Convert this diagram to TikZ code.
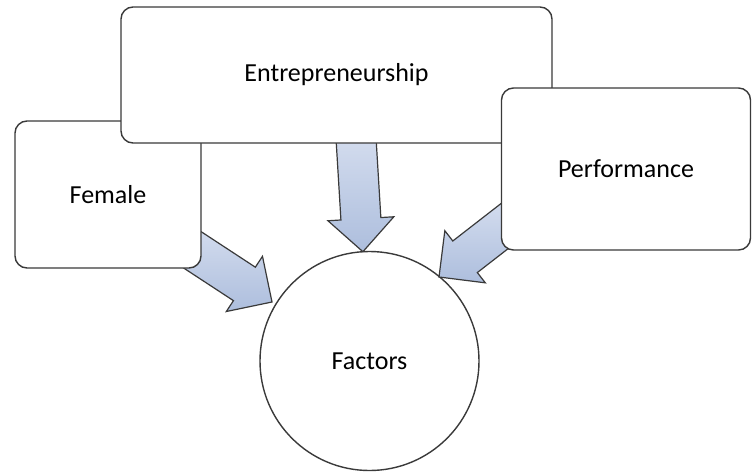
\documentclass[tikz,border=0pt]{standalone}
\usepackage{fontspec}
\setmainfont{Carlito}
\usetikzlibrary{calc}
\definecolor{edge}{HTML}{3A3A3A}
\definecolor{arrowtop}{HTML}{D3DCEE}
\definecolor{arrowbot}{HTML}{ADBEDD}
\tikzset{
  box/.style={draw=edge, line width=1.4pt, rounded corners=12pt, fill=white,
    inner sep=0pt, font=\fontsize{26}{30}\selectfont},
  ring/.style={draw=edge, line width=1.4pt, circle, fill=white, inner sep=0pt,
    font=\fontsize{26}{30}\selectfont},
  blockarrow/.style={draw=edge, line width=1.2pt, line join=miter,
    top color=arrowtop, bottom color=arrowbot}
}
\newcommand{\blockarr}[2]{%
  \draw[blockarrow]
    ($(#1)!20pt!90:(#2)$) --
    ($($(#2)!33pt!(#1)$)!20pt!90:(#2)$) --
    ($($(#2)!33pt!(#1)$)!33pt!90:(#2)$) --
    (#2) --
    ($($(#2)!33pt!(#1)$)!33pt!-90:(#2)$) --
    ($($(#2)!33pt!(#1)$)!20pt!-90:(#2)$) --
    ($(#1)!20pt!-90:(#2)$) -- cycle;}
\begin{document}
\begin{tikzpicture}[x=1pt, y=-1pt]
  \useasboundingbox (0,0) rectangle (752,474);
  % circle
  \node[ring, minimum size=219pt] (fac) at (369.5,361) {Factors};
  % arrow end points
  \coordinate (la) at (185,245);
  \coordinate (lb) at (272,302);
  \coordinate (ma) at (356,138);
  \coordinate (mb) at ($(fac.center)!109.5pt!(ma)$);
  \coordinate (ra) at (515,218);
  \coordinate (rb) at (439,277);
  \blockarr{la}{lb}
  \blockarr{ma}{mb}
  \blockarr{ra}{rb}
  % boxes
  \node[box, minimum width=186pt, minimum height=147pt] (fem) at (108,194.5) {Female};
  \node[box, minimum width=431pt, minimum height=136pt] (ent) at (336.5,75) {Entrepreneurship};
  \node[box, minimum width=249pt, minimum height=162pt] (perf) at (626,169) {Performance};
\end{tikzpicture}
\end{document}
